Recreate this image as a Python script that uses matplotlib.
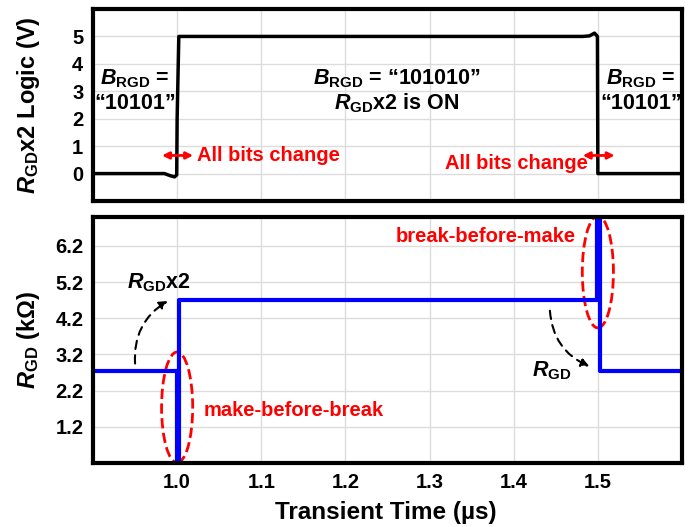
import matplotlib
matplotlib.use('Agg')
import matplotlib.pyplot as plt
from matplotlib.patches import Ellipse

plt.rcParams['font.family'] = 'Liberation Sans'
plt.rcParams['font.weight'] = 'bold'
plt.rcParams['axes.labelweight'] = 'bold'
plt.rcParams['mathtext.fontset'] = 'custom'
plt.rcParams['mathtext.rm'] = 'Liberation Sans:bold'
plt.rcParams['mathtext.bf'] = 'Liberation Sans:bold'
plt.rcParams['mathtext.it'] = 'Liberation Sans:italic:bold'
plt.rcParams['mathtext.bfit'] = 'Liberation Sans:italic:bold'

# control logic voltage (V) vs time (us)
logic_t = [0.9, 0.985, 0.992, 0.997, 0.9995, 1.0, 1.002, 1.482, 1.490, 1.496, 1.4995, 1.5, 1.6]
logic_v = [0.0, 0.0, -0.08, -0.12, -0.05, 2.0, 5.0, 5.0, 5.02, 5.12, 5.0, 0.0, 0.0]

# gate-drain resistance (kOhm) vs time (us)
rgd_t = [0.9, 1.0, 1.0, 1.002, 1.002, 1.4995, 1.4995, 1.502, 1.502, 1.6]
rgd_k = [2.73, 2.73, 0.1, 0.1, 4.72, 4.72, 7.3, 7.3, 2.73, 2.73]

xticks = [1.0, 1.1, 1.2, 1.3, 1.4, 1.5]
logic_ticks = [0, 1, 2, 3, 4, 5]
rgd_ticks = [1.2, 2.2, 3.2, 4.2, 5.2, 6.2]

fig = plt.figure(figsize=(6.96, 5.27), dpi=100)
ax1 = fig.add_axes([0.1336, 0.6186, 0.8463, 0.3643])
ax2 = fig.add_axes([0.1336, 0.1214, 0.8463, 0.4668])

for ax in (ax1, ax2):
    ax.set_xlim(0.9, 1.6)
    ax.set_xticks(xticks)
    for s in ax.spines.values():
        s.set_linewidth(3)
    ax.grid(True, color='#dcdcdc', lw=1)
    ax.set_axisbelow(True)
    ax.tick_params(length=0, labelsize=14.5, pad=7)
    ax.yaxis.set_label_coords(-0.087, 0.5)

ax1.set_xticklabels([])
ax1.set_ylim(-1, 6)
ax1.set_yticks(logic_ticks)
ax1.plot(logic_t, logic_v, color='black', lw=2.5)
ax1.set_ylabel(r'$\mathbfit{R}_{\mathbf{GD}}$x2 Logic (V)', fontsize=17)

ax2.set_ylim(0.2, 7.0)
ax2.set_yticks(rgd_ticks)
ax2.plot(rgd_t, rgd_k, color='#0000ff', lw=3)
ax2.set_ylabel(r'$\mathbfit{R}_{\mathbf{GD}}$ (k$\Omega$)', fontsize=17)
ax2.set_xlabel('Transient Time (µs)', fontsize=17.5)
ax2.xaxis.set_label_coords(0.497, -0.155)

# state labels on the logic plot
bfs = 15.5
ax1.text(0.95, 3.47, r'$\mathbfit{B}_{\mathbf{RGD}}$ =', ha='center', va='center', fontsize=bfs)
ax1.text(0.95, 2.55, '“10101”', ha='center', va='center', fontsize=bfs)
ax1.text(1.261, 3.47, r'$\mathbfit{B}_{\mathbf{RGD}}$ = “101010”', ha='center', va='center', fontsize=bfs)
ax1.text(1.261, 2.55, r'$\mathbfit{R}_{\mathbf{GD}}$x2 is ON', ha='center', va='center', fontsize=bfs)
ax1.text(1.551, 3.47, r'$\mathbfit{B}_{\mathbf{RGD}}$ =', ha='center', va='center', fontsize=bfs)
ax1.text(1.551, 2.55, '“10101”', ha='center', va='center', fontsize=bfs)

red = '#ff0000'
rfs = 14.5
arr = dict(arrowstyle='<|-|>', color=red, lw=2, mutation_scale=10, shrinkA=0, shrinkB=0)
ax1.annotate('', xy=(0.982, 0.66), xytext=(1.019, 0.66), arrowprops=arr)
ax1.text(1.024, 0.66, 'All bits change', color=red, ha='left', va='center', fontsize=rfs)
ax1.annotate('', xy=(1.482, 0.66), xytext=(1.520, 0.66), arrowprops=arr)
ax1.text(1.488, 0.36, 'All bits change', color=red, ha='right', va='center', fontsize=rfs)

# switching glitches on the resistance plot
ax2.add_patch(Ellipse((1.0, 1.74), 0.037, 3.06, fill=False, ec=red, lw=2, ls='--'))
ax2.add_patch(Ellipse((1.5, 5.48), 0.037, 3.09, fill=False, ec=red, lw=2, ls='--'))
ax2.text(1.031, 1.65, 'make-before-break', color=red, ha='left', va='center', fontsize=rfs)
ax2.text(1.474, 6.45, 'break-before-make', color=red, ha='right', va='center', fontsize=rfs)

ax2.text(0.979, 5.18, r'$\mathbfit{R}_{\mathbf{GD}}$x2', ha='center', va='center', fontsize=bfs)
ax2.text(1.445, 2.76, r'$\mathbfit{R}_{\mathbf{GD}}$', ha='center', va='center', fontsize=bfs)

dash = dict(arrowstyle='-|>', color='black', lw=1.5, ls=(0, (4, 3)), mutation_scale=12,
            shrinkA=0, shrinkB=0)
ax2.annotate('', xy=(0.989, 4.68), xytext=(0.95, 2.95),
             arrowprops=dict(dash, connectionstyle='arc3,rad=-0.3'))
ax2.annotate('', xy=(1.490, 2.87), xytext=(1.443, 4.41),
             arrowprops=dict(dash, connectionstyle='arc3,rad=0.3'))

fig.savefig('out.png', dpi=100)
